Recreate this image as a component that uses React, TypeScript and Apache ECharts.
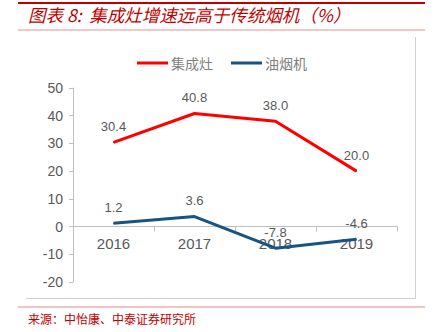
import React, { useEffect, useRef } from "react";
import * as echarts from "echarts";

const categories = ["2016", "2017", "2018", "2019"];
const integratedStove = [30.4, 40.8, 38.0, 20.0];
const rangeHood = [1.2, 3.6, -7.8, -4.6];
const seriesNames = ["集成灶", "油烟机"];
const titleText = "图表 8:  集成灶增速远高于传统烟机（%）";
const sourceText = "来源：中怡康、中泰证券研究所";

export default function App() {
  const ref = useRef<HTMLDivElement>(null);
  useEffect(() => {
    if (!ref.current) return;
    const chart = echarts.init(ref.current, null, { renderer: "svg" });
    const labelStyle = {
      show: true,
      position: "top" as const,
      distance: 9,
      color: "#595959",
      fontSize: 13,
      fontFamily: "Liberation Sans, Arial, sans-serif",
      formatter: (p: any) => Number(p.value).toFixed(1),
    };
    const gridTop = 88;
    const gridBottom = 50;
    const gridHeight = 332 - gridTop - gridBottom;
    const yMin = -20;
    const yMax = 50;
    const zeroOffset = gridHeight * (0 - yMin) / (yMax - yMin);
    chart.setOption({
      animation: false,
      backgroundColor: "#fff",
      grid: { left: 73, right: 38, top: gridTop, bottom: gridBottom },
      legend: {
        top: 51,
        left: 132,
        itemWidth: 31,
        itemHeight: 3,
        itemGap: 18,
        icon: "rect",
        textStyle: { color: "#7F7F7F", fontSize: 14, fontFamily: "Noto Sans CJK SC", padding: [0, 0, 0, -2] },
        data: seriesNames,
      },
      xAxis: {
        type: "category",
        data: categories,
        boundaryGap: true,
        offset: -zeroOffset,
        axisLine: { onZero: false, lineStyle: { color: "#BFBFBF", width: 1 } },
        axisTick: { show: true, length: 5, lineStyle: { color: "#BFBFBF" } },
        axisLabel: {
          color: "#595959",
          fontSize: 15,
          margin: 9,
          fontFamily: "Liberation Sans, Arial, sans-serif",
        },
        z: 1,
      },
      yAxis: {
        type: "value",
        min: yMin,
        max: yMax,
        interval: 10,
        splitLine: { show: false },
        axisLine: { show: true, lineStyle: { color: "#BFBFBF" } },
        axisTick: { show: true, length: 4, lineStyle: { color: "#BFBFBF" } },
        axisLabel: {
          color: "#595959",
          fontSize: 14,
          margin: 10,
          fontFamily: "Liberation Sans, Arial, sans-serif",
        },
      },
      series: [
        {
          name: seriesNames[0],
          type: "line",
          data: integratedStove,
          symbol: "circle",
          symbolSize: 1,
          showSymbol: true,
          lineStyle: { color: "#FF0000", width: 3 },
          itemStyle: { color: "#FF0000" },
          label: labelStyle,
          z: 3,
        },
        {
          name: seriesNames[1],
          type: "line",
          data: rangeHood,
          symbol: "circle",
          symbolSize: 1,
          showSymbol: true,
          lineStyle: { color: "#175482", width: 3 },
          itemStyle: { color: "#175482" },
          label: labelStyle,
          z: 3,
        },
      ],
      graphic: [
        { type: "line", shape: { x1: 18, y1: 3, x2: 425, y2: 3 }, style: { stroke: "#C00000", lineWidth: 2 } },
        {
          type: "text",
          left: 28,
          top: 6,
          style: {
            text: titleText,
            fill: "#C00000",
            font: "italic 17.5px 'Noto Sans CJK SC'",
          },
        },
        { type: "line", shape: { x1: 18, y1: 30, x2: 425, y2: 30 }, style: { stroke: "#F4C7C7", lineWidth: 2 } },
        { type: "line", shape: { x1: 415.5, y1: 37, x2: 415.5, y2: 298 }, style: { stroke: "#D0D0D0", lineWidth: 1 } },
        { type: "line", shape: { x1: 26, y1: 298.5, x2: 416, y2: 298.5 }, style: { stroke: "#D0D0D0", lineWidth: 1 } },
        { type: "line", shape: { x1: 18, y1: 307, x2: 425, y2: 307 }, style: { stroke: "#E58A8A", lineWidth: 1 } },
        {
          type: "text",
          left: 28,
          top: 312,
          style: {
            text: sourceText,
            fill: "#C00000",
            font: "12px 'Noto Sans CJK SC'",
          },
        },
      ],
    });
    return () => chart.dispose();
  }, []);
  return (
    <div
      ref={ref}
      style={{ position: "fixed", left: 0, top: 0, width: 435, height: 332 }}
    />
  );
}
